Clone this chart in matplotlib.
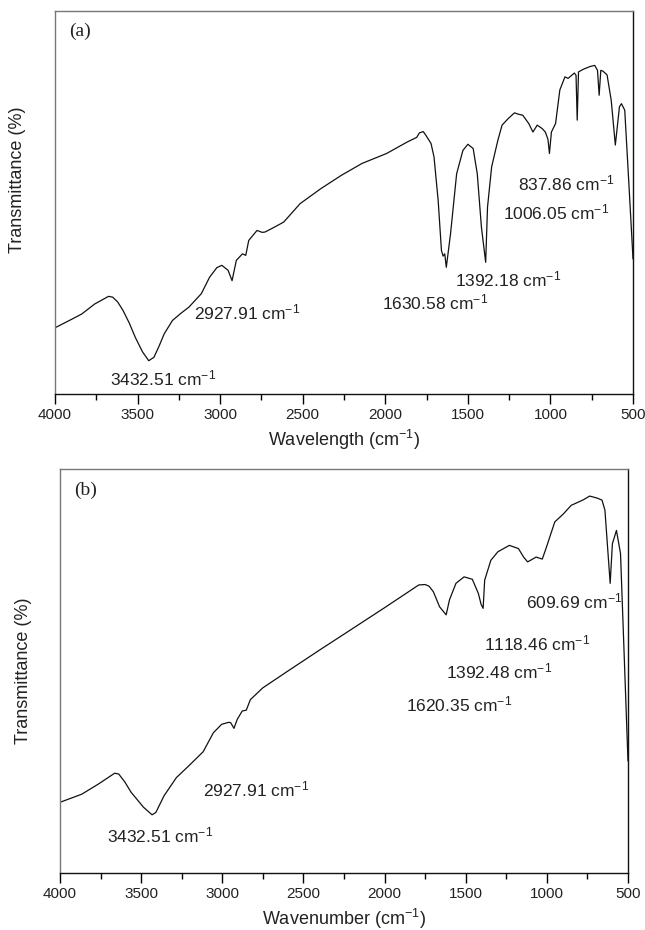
import matplotlib

matplotlib.use("Agg")
import matplotlib.pyplot as plt
import matplotlib.ticker as ticker

# spectrum (a): wavenumber (cm-1) and relative transmittance
wn_a = [4000, 3900, 3838, 3760, 3676, 3651, 3620, 3588, 3550, 3514, 3470,
        3432.51, 3401, 3370, 3339, 3289, 3240, 3189, 3114, 3064, 3020, 2990,
        2952, 2927.91, 2902, 2865, 2845, 2827, 2777, 2745, 2728, 2670, 2615,
        2516, 2391, 2266, 2141, 1992, 1867, 1810, 1793, 1770, 1755, 1723,
        1705, 1680, 1660, 1650, 1640, 1630.58, 1605, 1568, 1530, 1500, 1468,
        1443, 1418, 1392.18, 1381, 1356, 1318, 1293, 1256, 1218, 1190, 1168,
        1131, 1106, 1080, 1050, 1031, 1015, 1006.05, 994, 969, 943, 912, 893,
        855, 845, 837.86, 830, 800, 760, 732, 715, 705, 695, 682, 657, 632,
        607, 582, 570, 550, 525, 500]
t_a = [17.3, 19.5, 20.9, 23.5, 25.5, 25.3, 24.0, 21.8, 18.5, 14.8, 11.0,
       8.7, 9.6, 12.5, 15.7, 19.2, 21.0, 22.7, 26.2, 30.5, 33.0, 33.6,
       32.3, 29.6, 34.9, 36.6, 36.2, 40.1, 42.7, 42.2, 42.3, 43.6, 44.9,
       49.7, 53.6, 57.1, 60.2, 62.8, 65.8, 67.0, 68.2, 68.5, 67.6, 65.4,
       61.9, 50.6, 37.5, 36.0, 36.6, 33.1, 41.8, 57.5, 63.6, 65.2, 64.1,
       57.5, 43.6, 34.4, 48.8, 59.3, 66.3, 70.2, 71.9, 73.4, 73.0, 72.8,
       70.6, 68.4, 70.2, 69.3, 68.4, 66.5, 62.8, 68.4, 70.6, 79.4, 82.8, 82.4,
       83.8, 83.2, 71.5, 84.1, 84.8, 85.5, 85.8, 84.5, 78.0, 84.5, 84.3, 83.3, 76.7,
       65.0, 75.0, 75.8, 74.1, 54.9, 35.3]

# spectrum (b)
wn_b = [4000, 3866, 3764, 3663, 3638, 3600, 3562, 3486, 3432.51, 3409, 3359,
        3283, 3207, 3118, 3055, 3004, 2960, 2948, 2927.91, 2908, 2877, 2852,
        2827, 2751, 2599, 2396, 2193, 1991, 1789, 1750, 1726, 1699, 1661,
        1620.35, 1600, 1560, 1510, 1459, 1422, 1405, 1392.48, 1383, 1345,
        1302, 1231, 1175, 1143, 1118.46, 1066, 1028, 1002, 951, 900, 850,
        774, 736, 690, 660, 642, 609.69, 596, 571, 546, 526, 500]
t_b = [17.5, 19.5, 22.0, 24.7, 24.5, 22.5, 20.0, 16.3, 14.4, 15.0, 19.1,
       23.6, 26.5, 30.0, 34.7, 36.8, 37.3, 37.2, 35.8, 38.0, 40.1, 40.3,
       42.9, 45.8, 49.9, 55.3, 60.6, 65.9, 71.3, 71.4, 71.0, 69.6, 65.9,
       63.9, 67.6, 71.7, 73.3, 72.7, 69.2, 66.5, 65.5, 72.5, 77.4,
       79.5, 81.1, 80.3, 78.2, 77.0, 78.2, 77.7, 80.7, 86.9, 88.8, 91.0,
       92.4, 93.3, 92.8, 92.3, 89.8, 71.7, 81.5, 84.8, 79.1, 56.9, 27.8]

# assigned bands
peaks_a = [3432.51, 2927.91, 1630.58, 1392.18, 837.86, 1006.05]
peaks_b = [3432.51, 2927.91, 1620.35, 1392.48, 1118.46, 609.69]

# where each band label sits (left edge wavenumber, height)
label_pos_a = [(3668, 4.2), (3159, 21.4), (2017, 24.0), (1580, 29.8),
               (1196, 55.1), (1287, 47.5)]
label_pos_b = [(3709, 9.3), (3118, 20.8), (1868, 41.6), (1622, 49.8),
               (1387, 56.7), (1129, 67.1)]

TEXT = "#222222"


def draw_panel(ax, wn, t, peaks, label_pos, tag, xlabel, ylabel_y):
    ax.plot(wn, t, color="#111111", lw=0.9)
    ax.set_xlim(4000, 500)
    ax.set_ylim(0, 100)

    for peak, (x, y) in zip(peaks, label_pos):
        ax.text(x, y, f"{peak:.2f} cm$^{{-1}}$", ha="left", va="center",
                fontsize=12.5, color=TEXT)

    ax.text(0.025, 0.948, tag, transform=ax.transAxes, ha="left",
            va="center", fontsize=14, family="Liberation Serif", color=TEXT)

    ax.xaxis.set_major_locator(ticker.MultipleLocator(500))
    ax.xaxis.set_minor_locator(ticker.MultipleLocator(250))
    ax.tick_params(axis="x", which="major", direction="out", length=7,
                   width=1, pad=3, labelsize=11, labelcolor=TEXT)
    ax.tick_params(axis="x", which="minor", direction="out", length=4,
                   width=1)
    ax.tick_params(axis="y", which="both", left=False, labelleft=False)

    for side in ("left", "top"):
        ax.spines[side].set_color("#777777")
    for side in ("right", "bottom"):
        ax.spines[side].set_color("#111111")
    for sp in ax.spines.values():
        sp.set_linewidth(1.0)

    ax.set_xlabel(xlabel, fontsize=13, color=TEXT)
    ax.set_ylabel("Transmittance (%)", fontsize=13, color=TEXT)
    ax.yaxis.set_label_coords(-0.05, ylabel_y)


def main():
    plt.rcParams["font.family"] = ["Liberation Sans", "DejaVu Sans"]
    plt.rcParams["mathtext.default"] = "regular"

    fig = plt.figure(figsize=(6.45, 9.30), dpi=100)
    ax_a = fig.add_axes([0.0853, 0.5763, 0.8961, 0.4119])
    ax_b = fig.add_axes([0.0930, 0.0613, 0.8806, 0.4344])

    draw_panel(ax_a, wn_a, t_a, peaks_a, label_pos_a, "(a)",
               "Wavelength (cm$^{-1}$)", 0.56)
    ax_a.xaxis.set_label_coords(0.5, -0.088)
    draw_panel(ax_b, wn_b, t_b, peaks_b, label_pos_b, "(b)",
               "Wavenumber (cm$^{-1}$)", 0.50)
    ax_b.xaxis.set_label_coords(0.5, -0.083)

    fig.savefig("out.png", dpi=100, facecolor="white")


if __name__ == "__main__":
    main()
